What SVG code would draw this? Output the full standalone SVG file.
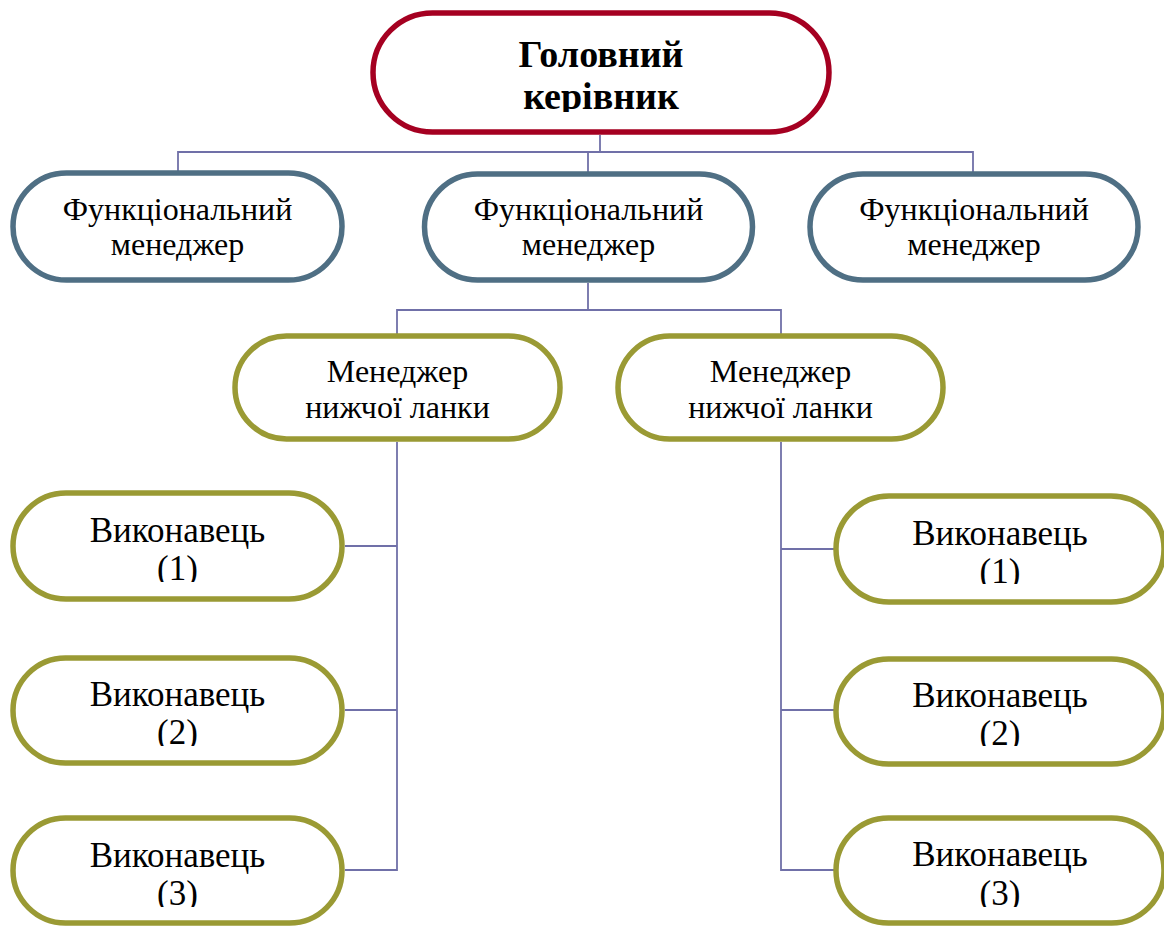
<svg xmlns="http://www.w3.org/2000/svg" width="1164" height="926" viewBox="0 0 1164 926">
<style>
.pill{fill:#fff;stroke-width:5.5}
.red{stroke:#A50021}
.blue{stroke:#4F6F84}
.olive{stroke:#9A9A34}
.conn{fill:none;stroke:#7070A8;stroke-width:1.8}
text{font-family:"Liberation Serif","Times New Roman",serif;fill:#000;text-anchor:middle}
.t32{font-size:32px}
.t34{font-size:35px}
.b{font-size:38px;font-weight:bold}
</style>
<defs>
<clipPath id="cTop"><rect x="370" y="0" width="462" height="112"/></clipPath>
<clipPath id="cL1"><rect x="0" y="480" width="360" height="102"/></clipPath>
<clipPath id="cL2"><rect x="0" y="640" width="360" height="106"/></clipPath>
<clipPath id="cL3"><rect x="0" y="800" width="360" height="107"/></clipPath>
<clipPath id="cR1"><rect x="820" y="480" width="344" height="104"/></clipPath>
<clipPath id="cR2"><rect x="820" y="640" width="344" height="106"/></clipPath>
<clipPath id="cR3"><rect x="820" y="800" width="344" height="107"/></clipPath>
</defs>
<g id="connectors">
<path class="conn" d="M600,135 V152 M178,172 V152 H973 V172 M588,152 V172"/>
<path class="conn" d="M588,283 V310 M397,335 V310 H781 V335"/>
<path class="conn" d="M397,442 V870 H345 M345,546 H397 M345,710 H397"/>
<path class="conn" d="M781,442 V870 H835 M781,549 H835 M781,710 H835"/>
</g>
<g id="top">
<rect class="pill red" x="373" y="13" width="456" height="119" rx="59.5"/>
<g clip-path="url(#cTop)">
<text class="b" x="601" y="67">Головний</text>
<text class="b" x="601" y="109">керівник</text>
</g>
</g>
<g id="func1">
<rect class="pill blue" x="13" y="173" width="329" height="107" rx="53.5"/>
<text class="t32" x="177.5" y="220">Функціональний</text>
<text class="t32" x="177.5" y="255">менеджер</text>
</g>
<g id="func2">
<rect class="pill blue" x="424.5" y="174" width="328" height="106" rx="53"/>
<text class="t32" x="588.5" y="220">Функціональний</text>
<text class="t32" x="588.5" y="255">менеджер</text>
</g>
<g id="func3">
<rect class="pill blue" x="810" y="174" width="328" height="106" rx="53"/>
<text class="t32" x="974" y="220">Функціональний</text>
<text class="t32" x="974" y="255">менеджер</text>
</g>
<g id="low1">
<rect class="pill olive" x="235" y="336" width="325" height="103" rx="51.5"/>
<text class="t32" x="397.5" y="382">Менеджер</text>
<text class="t32" x="397.5" y="418">нижчої ланки</text>
</g>
<g id="low2">
<rect class="pill olive" x="618" y="336" width="325" height="103" rx="51.5"/>
<text class="t32" x="780.5" y="382">Менеджер</text>
<text class="t32" x="780.5" y="418">нижчої ланки</text>
</g>
<g id="execL1">
<rect class="pill olive" x="13" y="493" width="329" height="106" rx="53"/>
<g clip-path="url(#cL1)"><text class="t34" x="177.5" y="542">Виконавець</text><text class="t34" x="177.5" y="580">(1)</text></g>
</g>
<g id="execL2">
<rect class="pill olive" x="13" y="658" width="329" height="105" rx="52.5"/>
<g clip-path="url(#cL2)"><text class="t34" x="177.5" y="706">Виконавець</text><text class="t34" x="177.5" y="744">(2)</text></g>
</g>
<g id="execL3">
<rect class="pill olive" x="13" y="818" width="329" height="105" rx="52.5"/>
<g clip-path="url(#cL3)"><text class="t34" x="177.5" y="867">Виконавець</text><text class="t34" x="177.5" y="905">(3)</text></g>
</g>
<g id="execR1">
<rect class="pill olive" x="836" y="496" width="328" height="106" rx="53"/>
<g clip-path="url(#cR1)"><text class="t34" x="1000" y="545">Виконавець</text><text class="t34" x="1000" y="583">(1)</text></g>
</g>
<g id="execR2">
<rect class="pill olive" x="836" y="659" width="328" height="105" rx="52.5"/>
<g clip-path="url(#cR2)"><text class="t34" x="1000" y="707">Виконавець</text><text class="t34" x="1000" y="745">(2)</text></g>
</g>
<g id="execR3">
<rect class="pill olive" x="836" y="818" width="328" height="105" rx="52.5"/>
<g clip-path="url(#cR3)"><text class="t34" x="1000" y="866">Виконавець</text><text class="t34" x="1000" y="905">(3)</text></g>
</g>
</svg>
